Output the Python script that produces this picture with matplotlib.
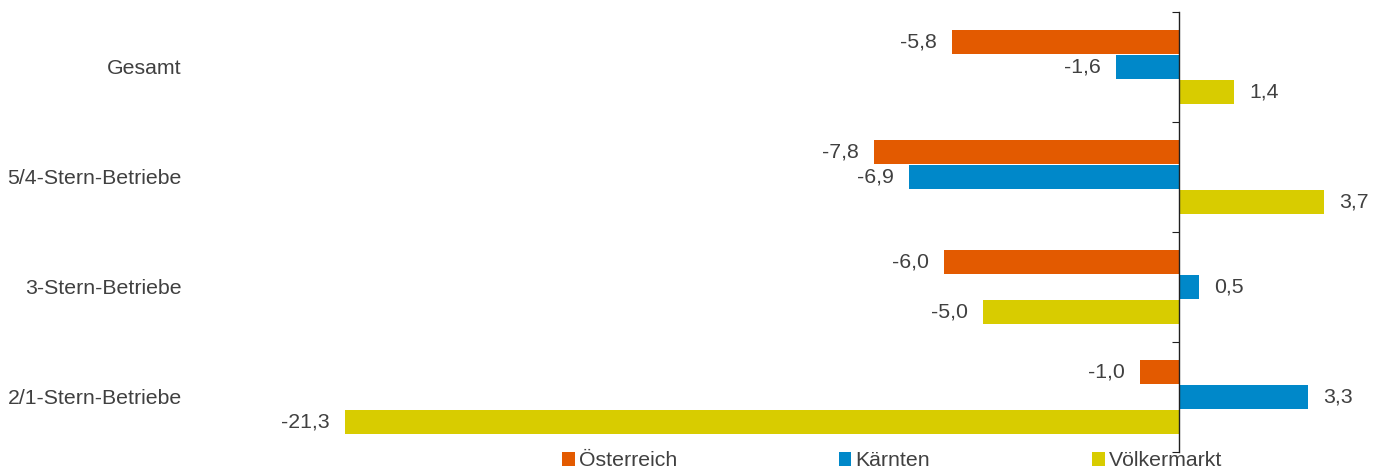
import numpy as np
import matplotlib.pyplot as plt

plt.rcParams['font.family'] = ['Liberation Sans', 'DejaVu Sans']

categories = ["Gesamt", "5/4-Stern-Betriebe", "3-Stern-Betriebe", "2/1-Stern-Betriebe"]
series_names = ["Österreich", "Kärnten", "Völkermarkt"]
oesterreich = [-5.8, -7.8, -6.0, -1.0]
kaernten = [-1.6, -6.9, 0.5, 3.3]
voelkermarkt = [1.4, 3.7, -5.0, -21.3]
colors = ["#E35A00", "#0088C9", "#D8CC00"]

text_col = "#404040"
fs = 15.3

fig = plt.figure(figsize=(13.87, 4.76), dpi=100)
ax = fig.add_axes([200/1387, 24/476, 1180/1387, 440/476])

y = np.arange(len(categories))
offsets = [-0.23, 0.0, 0.23]
for vals, off, col, name in zip([oesterreich, kaernten, voelkermarkt], offsets, colors, series_names):
    bars = ax.barh(y + off, vals, height=0.22, color=col, label=name)
    for b, v in zip(bars, vals):
        ha = "left" if v >= 0 else "right"
        dx = 11 if v >= 0 else -11
        ax.annotate(f"{v:.1f}".replace(".", ","), (v, b.get_y() + b.get_height()/2),
                    xytext=(dx, 0), textcoords="offset points",
                    ha=ha, va="center", fontsize=fs, color=text_col)

ax.set_xlim(-25, 5.13)
ax.set_ylim(3.5, -0.5)

for s in ["top", "bottom", "right"]:
    ax.spines[s].set_visible(False)
ax.spines["left"].set_position(("data", 0))
ax.spines["left"].set_color("#202020")
ax.spines["left"].set_linewidth(1)
ax.set_xticks([])
ax.set_yticks([-0.5, 0.5, 1.5, 2.5, 3.5])
ax.set_yticklabels([])
ax.tick_params(axis="y", length=5, direction="out", color="#202020")

# category labels, right aligned left of the plot area
for yi, cat in zip(y, categories):
    ax.annotate(cat, xy=(0, yi), xycoords=("axes fraction", "data"), xytext=(-18, -2),
                textcoords="offset pixels", ha="right", va="center", fontsize=fs, color=text_col)

leg = fig.legend(loc="center", bbox_to_anchor=(892/1387, 1 - 461/476), ncol=3,
                 frameon=False, fontsize=fs, handlelength=0.6, handleheight=0.6,
                 handletextpad=0.2, columnspacing=7.6, borderpad=0)
for t in leg.get_texts():
    t.set_color(text_col)

fig.savefig("out.png", dpi=100)
